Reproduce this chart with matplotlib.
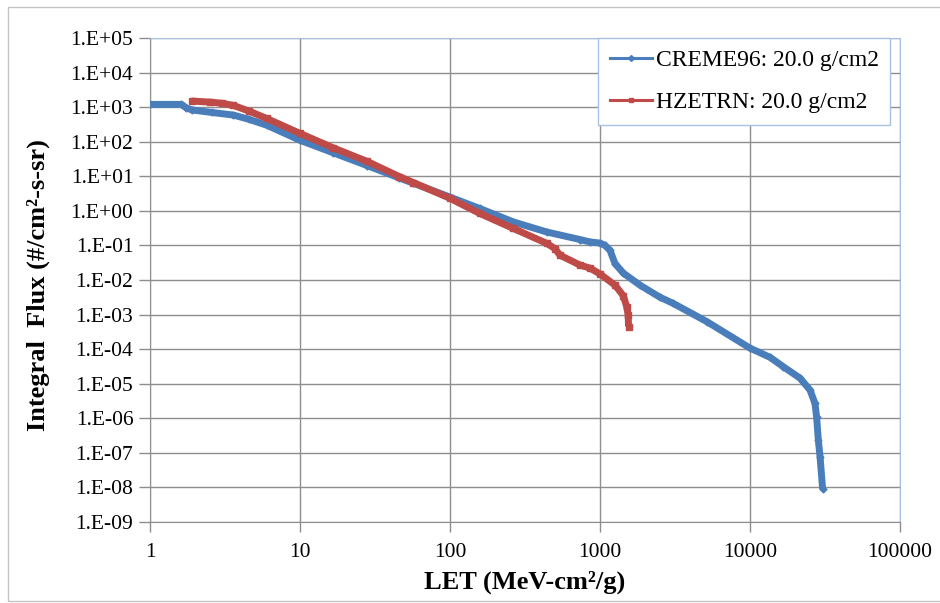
"""Integral LET spectra behind 20 g/cm2 shielding: CREME96 vs HZETRN."""

import math

import matplotlib

matplotlib.use("Agg")
import matplotlib.pyplot as plt
from matplotlib.lines import Line2D
from matplotlib.patches import Rectangle
from matplotlib.ticker import FixedLocator, FuncFormatter, NullLocator

plt.rcParams["font.family"] = ["Liberation Serif", "DejaVu Serif"]

BLUE = "#4a7ebb"
RED = "#be4b48"
GRID = "#8e8e8e"
FRAME = "#a9c1e2"

# LET in MeV-cm2/g, integral flux in #/cm2-s-sr
creme_let = [1.0, 1.62, 1.75, 1.9, 2.6, 3.6, 4.6, 6.0, 10, 16.6, 28, 46, 57,
             100, 158, 264, 441, 736, 858, 1000, 1080, 1166, 1259, 1431, 1848,
             2500, 3080, 5140, 10000, 13600, 16680, 21540, 25120, 27100,
             27800, 28550, 29300, 30500]
creme_flux = [1200, 1200, 950, 830, 700, 590, 440, 300, 110, 48, 20.4, 8.9,
              6.3, 2.5, 1.17, 0.48, 0.245, 0.148, 0.126, 0.117, 0.10, 0.072,
              0.030, 0.0158, 0.0071, 0.0032, 0.0021, 0.00063, 0.000107,
              0.000058, 0.000031, 0.0000145, 6.6e-6, 2.7e-6, 1.1e-6, 2.3e-7,
              7.8e-8, 8.9e-9]

hze_let = [1.9, 2.5, 3.0, 3.6, 4.6, 6.0, 10, 16.6, 28, 46, 57, 100, 158, 264,
           441, 501, 541, 736, 858, 1000, 1259, 1431, 1506, 1540, 1550]
hze_flux = [1500, 1400, 1300, 1120, 760, 470, 174, 67, 27, 9.8, 6.6, 2.3,
            0.84, 0.31, 0.115, 0.081, 0.052, 0.027, 0.022, 0.015, 0.0071,
            0.0035, 0.0017, 0.0010, 0.00045]

x_ticks = [1, 10, 100, 1000, 10000, 100000]
y_exponents = list(range(-9, 6))

fig = plt.figure(figsize=(9.4, 6.03), dpi=100)
ax = fig.add_axes([150 / 940, 81 / 603, 750 / 940, 484 / 603])

ax.plot(creme_let, creme_flux, color=BLUE, lw=5, marker="D", ms=3.5,
        solid_capstyle="butt", solid_joinstyle="round", zorder=3)
ax.plot(hze_let, hze_flux, color=RED, lw=5, marker="s", ms=4.5,
        solid_capstyle="butt", solid_joinstyle="round", zorder=4)

ax.set_xscale("log")
ax.set_yscale("log")
ax.set_xlim(1, 1e5)
ax.set_ylim(1e-9, 1e5)

ax.xaxis.set_major_locator(FixedLocator(x_ticks))
ax.xaxis.set_minor_locator(NullLocator())
ax.xaxis.set_major_formatter(FuncFormatter(lambda v, _: f"{v:.0f}"))
ax.yaxis.set_major_locator(FixedLocator([10.0 ** e for e in y_exponents]))
ax.yaxis.set_minor_locator(NullLocator())
ax.yaxis.set_major_formatter(
    FuncFormatter(lambda v, _: f"1.E{round(math.log10(v)):+03d}"))

ax.grid(True, color=GRID, lw=1.0)
ax.set_axisbelow(True)
for side in ("left", "bottom"):
    ax.spines[side].set_color(GRID)
for side in ("top", "right"):
    ax.spines[side].set_color(FRAME)

ax.tick_params(axis="y", direction="out", length=8, width=1, color=GRID,
               labelsize=15.5, pad=4)
ax.tick_params(axis="x", direction="out", length=7, width=1, color=GRID,
               labelsize=15.5, pad=8)

ax.set_xlabel("LET (MeV-cm²/g)", fontsize=19, fontweight="bold")
ax.xaxis.set_label_coords(0.5, -0.125)
ax.xaxis.label.set_verticalalignment("center")
ax.set_ylabel("Integral  Flux (#/cm²-s-sr)", fontsize=19, fontweight="bold")
ax.yaxis.set_label_coords(-0.149, 0.49)
ax.yaxis.label.set_verticalalignment("center")

# legend keys: thin line with one marker in the middle
handles = [
    Line2D([0, 0.5, 1], [0, 0, 0], color=BLUE, lw=2.2, marker="D", ms=3,
           markevery=[1], label="CREME96: 20.0 g/cm2"),
    Line2D([0, 0.5, 1], [0, 0, 0], color=RED, lw=2.2, marker="s", ms=3.5,
           markevery=[1], label="HZETRN: 20.0 g/cm2"),
]
leg = ax.legend(handles=handles, loc="upper left", bbox_to_anchor=(0.597, 1.0),
                borderaxespad=0, fontsize=17, frameon=True, fancybox=False,
                handlelength=1.8, handletextpad=0.15, labelspacing=0.85,
                borderpad=0.5)
leg.get_frame().set_edgecolor(FRAME)
leg.get_frame().set_linewidth(1.0)
leg.get_frame().set_alpha(1.0)
leg.set_zorder(10)

# light border around the whole chart area
fig.add_artist(Rectangle((8 / 940, 2 / 603), 1.0, 1 - 9 / 603,
                         transform=fig.transFigure, fill=False,
                         edgecolor="#c4c4c4", lw=1.0))

fig.savefig("out.png", dpi=100)
